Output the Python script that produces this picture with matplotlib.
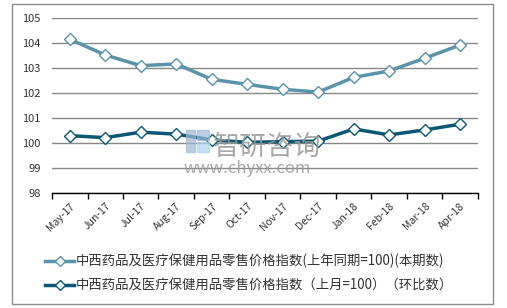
import matplotlib.pyplot as plt
from matplotlib.patches import Rectangle
from matplotlib.lines import Line2D

plt.rcParams['font.family'] = ['Noto Sans CJK SC', 'DejaVu Sans']

months = ["May-17", "Jun-17", "Jul-17", "Aug-17", "Sep-17", "Oct-17",
          "Nov-17", "Dec-17", "Jan-18", "Feb-18", "Mar-18", "Apr-18"]
yoy = [104.16, 103.53, 103.10, 103.17, 102.55, 102.35,
       102.15, 102.04, 102.63, 102.89, 103.40, 103.93]
mom = [100.29, 100.21, 100.43, 100.35, 100.12, 100.02,
       100.05, 100.07, 100.56, 100.32, 100.52, 100.75]
labels = ["中西药品及医疗保健用品零售价格指数(上年同期=100)(本期数)",
          "中西药品及医疗保健用品零售价格指数（上月=100）（环比数）"]

c1 = "#5b93ab"
c2 = "#0b5875"

fig = plt.figure(figsize=(5.07, 3.08), dpi=100)
fig.patches.append(Rectangle((12 / 507, 4 / 308), 481 / 507, 300 / 308,
                             transform=fig.transFigure, fill=False,
                             edgecolor="#8c8c8c", linewidth=1))
ax = fig.add_axes([0.1026, 0.3744, 0.840, 0.566])

x = range(len(months))
ax.plot(x, yoy, color=c1, linewidth=2.5, marker="D", markersize=6.5,
        markerfacecolor="white", markeredgecolor=c1, markeredgewidth=1, zorder=3)
ax.plot(x, mom, color=c2, linewidth=2.5, marker="D", markersize=6.5,
        markerfacecolor="white", markeredgecolor=c2, markeredgewidth=1, zorder=3)

ax.set_ylim(98, 105)
ax.set_yticks(range(98, 106))
ax.set_xlim(-0.5, len(months) - 0.5)
ax.set_xticks(list(x))
ax.set_xticklabels(months, rotation=45, ha="right", rotation_mode="anchor")
ax.set_xticks([i - 0.5 for i in range(len(months) + 1)], minor=True)
ax.tick_params(axis="x", which="major", length=0, labelsize=7.5, pad=6, colors="#333333")
ax.tick_params(axis="x", which="minor", length=4, width=1, color="black")
ax.tick_params(axis="y", length=0, labelsize=8, colors="#333333", pad=8)
ax.grid(axis="y", color="#888888", linewidth=1)
ax.set_axisbelow(True)
for s in ["top", "right", "left"]:
    ax.spines[s].set_visible(False)
ax.spines["bottom"].set_color("black")
ax.spines["bottom"].set_linewidth(1)

# watermark
fig.patches.append(Rectangle((186 / 507, 156 / 308), 9 / 507, 22 / 308,
                             transform=fig.transFigure, color="#9fb8d8", alpha=0.7, zorder=5))
fig.patches.append(Rectangle((197 / 507, 156 / 308), 12 / 507, 10 / 308,
                             transform=fig.transFigure, color="#a8d4ec", alpha=0.7, zorder=5))
fig.patches.append(Rectangle((197 / 507, 168 / 308), 12 / 507, 10 / 308,
                             transform=fig.transFigure, color="#9fb8d8", alpha=0.7, zorder=5))
fig.text(213 / 507, 0.497, "智研咨询", fontsize=19.5, color="#999999", alpha=0.85, zorder=5)
fig.text(184 / 507, 0.438, "www.chyxx.com", fontsize=12, color="#999999", alpha=0.85, zorder=5)

handles = [
    Line2D([], [], color=c1, linewidth=2.5, marker="D", markersize=5,
           markerfacecolor="white", markeredgecolor=c1),
    Line2D([], [], color=c2, linewidth=2.5, marker="D", markersize=5,
           markerfacecolor="white", markeredgecolor=c2),
]
fig.legend(handles, labels, loc="center", bbox_to_anchor=(0.491, 0.114),
           frameon=False, fontsize=9.6, handlelength=2.2, handletextpad=0.1,
           labelspacing=0.75, labelcolor="#333333")

fig.savefig("out.png", dpi=100)
